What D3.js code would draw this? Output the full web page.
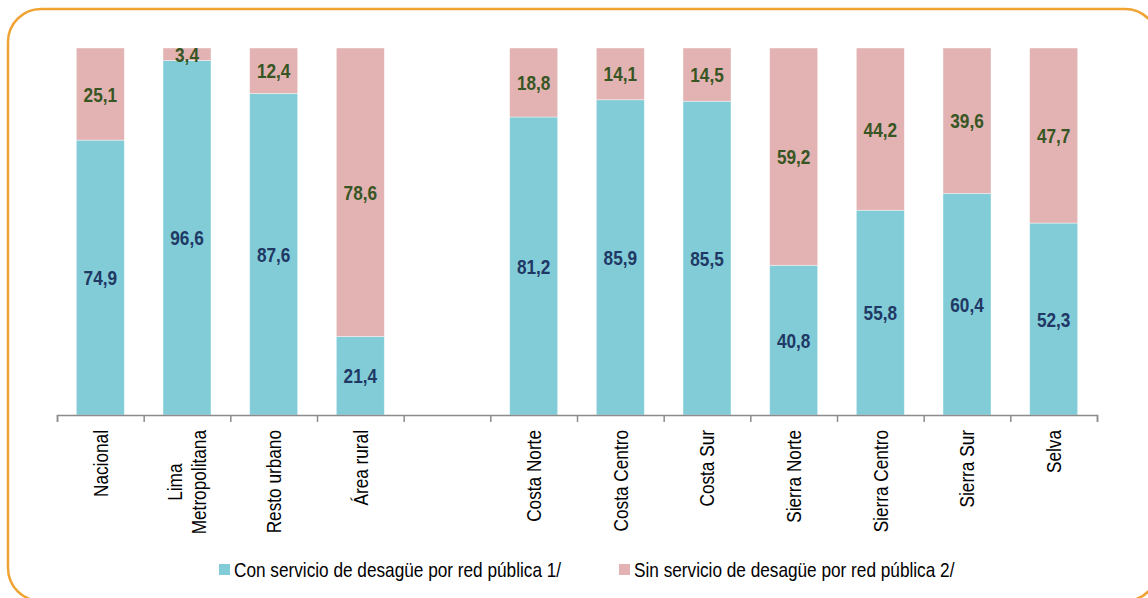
<!DOCTYPE html>
<html>
<head>
<meta charset="utf-8">
<script src="https://cdn.jsdelivr.net/npm/d3@7"></script>
<style>
  body { margin: 0; background: #fff; }
  svg { display: block; }
  text { font-family: "Liberation Sans", Arial, sans-serif; }
</style>
</head>
<body>
<svg id="chart" width="1148" height="598"></svg>
<script>
// Categories (empty string = gap between the two groups)
const categories = ["Nacional", "Lima Metropolitana", "Resto urbano", "Área rural", "",
  "Costa Norte", "Costa Centro", "Costa Sur", "Sierra Norte", "Sierra Centro", "Sierra Sur", "Selva"];
// Category labels split in lines
const labelLines = [["Nacional"], ["Lima", "Metropolitana"], ["Resto urbano"], ["Área rural"], [],
  ["Costa Norte"], ["Costa Centro"], ["Costa Sur"], ["Sierra Norte"], ["Sierra Centro"], ["Sierra Sur"], ["Selva"]];
const conServicio = [74.9, 96.6, 87.6, 21.4, null, 81.2, 85.9, 85.5, 40.8, 55.8, 60.4, 52.3];
const sinServicio = [25.1, 3.4, 12.4, 78.6, null, 18.8, 14.1, 14.5, 59.2, 44.2, 39.6, 47.7];
const seriesNames = ["Con servicio de desagüe por red pública 1/", "Sin servicio de desagüe por red pública 2/"];

const colors = ["#82CCD8", "#E3B2B2"];
const labelColors = ["#1F3864", "#375623"];

// narrow font look (Arial Narrow not installed): squeeze text horizontally
const narrow = 0.82;

const svg = d3.select("#chart");

// Rounded orange frame
svg.append("rect")
  .attr("x", 8).attr("y", 9)
  .attr("width", 1150).attr("height", 592)
  .attr("rx", 33).attr("ry", 33)
  .attr("fill", "none")
  .attr("stroke", "#F0A232")
  .attr("stroke-width", 2.5);

// Scales
const x = d3.scaleBand()
  .domain(categories.map((d, i) => i))
  .range([57, 1097])
  .paddingInner(0.446)
  .paddingOuter(0.223);

const y = d3.scaleLinear()
  .domain([0, 100])
  .range([415, 48]);

// Stacked data
const rows = categories.map((c, i) => ({ i, con: conServicio[i], sin: sinServicio[i] }))
  .filter(d => d.con !== null);
const stack = d3.stack().keys(["con", "sin"])(rows);

stack.forEach((layer, k) => {
  const g = svg.append("g");
  g.selectAll("rect")
    .data(layer)
    .enter()
    .append("rect")
    .attr("x", d => x(d.data.i))
    .attr("y", d => y(d[1]))
    .attr("width", x.bandwidth())
    .attr("height", d => y(d[0]) - y(d[1]))
    .attr("fill", colors[k])
    .attr("stroke", "#ffffff")
    .attr("stroke-opacity", 0.5)
    .attr("stroke-width", 0.8);

  g.selectAll("text")
    .data(layer)
    .enter()
    .append("text")
    .attr("transform", d => `translate(${x(d.data.i) + x.bandwidth() / 2},${(y(d[0]) + y(d[1])) / 2}) scale(${narrow},1)`)
    .attr("dy", "0.36em")
    .attr("text-anchor", "middle")
    .attr("font-size", "21px")
    .attr("font-weight", "bold")
    .attr("fill", labelColors[k])
    .text(d => d3.format(".1f")(d[1] - d[0]).replace(".", ","));
});

// Axis: ticks at category boundaries
const xTicks = d3.scaleLinear().domain([0, categories.length]).range([57, 1097]);
const axis = svg.append("g")
  .attr("transform", "translate(0,415)")
  .call(d3.axisBottom(xTicks).ticks(categories.length).tickFormat("").tickSize(7).tickSizeOuter(7));
axis.select(".domain").attr("stroke", "#8C8C8C").attr("stroke-width", 1.5);
axis.selectAll(".tick line").attr("stroke", "#8C8C8C").attr("stroke-width", 1.5);

// Category labels (rotated)
const lineH = 24;
labelLines.forEach((lines, i) => {
  if (!lines.length) return;
  const cx = x(i) + x.bandwidth() / 2;
  const t = svg.append("text")
    .attr("font-size", "21px")
    .attr("fill", "#000");
  lines.forEach(ln => t.append("tspan").text(ln));
  const widths = [];
  t.selectAll("tspan").each(function() { widths.push(this.getComputedTextLength()); });
  const maxW = d3.max(widths) * narrow;
  const n = lines.length;
  t.attr("transform", `translate(${cx},${430 + maxW / 2}) rotate(-90) scale(${narrow},1)`)
    .attr("text-anchor", "middle");
  t.selectAll("tspan")
    .attr("x", 0)
    .attr("y", (d, j) => (j - (n - 1) / 2) * lineH)
    .attr("dy", "0.35em");
});

// Legend
const legendX = [219, 619];
seriesNames.forEach((name, k) => {
  svg.append("rect")
    .attr("x", legendX[k]).attr("y", 564)
    .attr("width", 11).attr("height", 11)
    .attr("fill", colors[k]);
  svg.append("text")
    .attr("transform", `translate(${legendX[k] + 15},570) scale(${narrow},1)`)
    .attr("dy", "0.35em")
    .attr("font-size", "21px")
    .attr("fill", "#000")
    .text(name);
});
</script>
</body>
</html>
